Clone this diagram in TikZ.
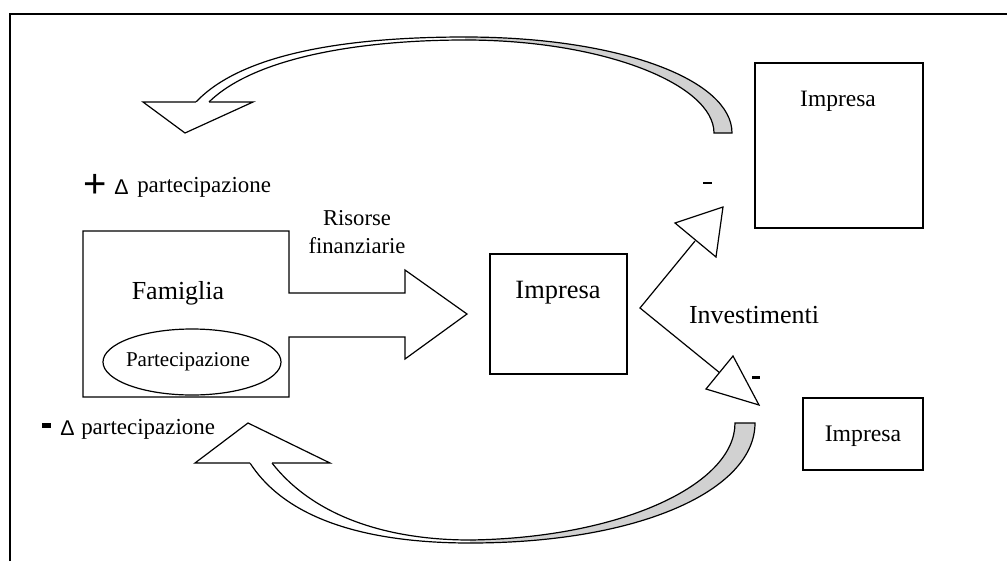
\documentclass[tikz,border=0pt]{standalone}
\usepackage{fontspec}
\setmainfont{Liberation Serif}
\newfontfamily\symf{Liberation Sans}
\begin{document}
\begin{tikzpicture}[x=0.75pt,y=-0.75pt,
  shp/.style={draw=black,line width=0.9pt,fill=white,line join=miter},
  ln/.style={draw=black,line width=0.9pt},
  lbl/.style={inner sep=0pt,anchor=center}]
\useasboundingbox (0,0) rectangle (1007,561);
% frame
\draw[line width=1.5pt] (9.5,561) -- (9.5,13.5) -- (1007,13.5);

% ---------- top curved arrow ----------
\path[fill=white] (196,102) .. controls (245,50) and (360,37) .. (465,37)
   -- (465,40) .. controls (365,40) and (256,56) .. (209,102) -- cycle;
\path[fill=black!18] (465,37) .. controls (620,37) and (732,80) .. (732,133)
   -- (714,133) .. controls (714,85) and (605,40) .. (465,40) -- cycle;
\draw[ln] (196,102) .. controls (245,50) and (360,37) .. (465,37)
   .. controls (620,37) and (732,80) .. (732,133) -- (714,133)
   .. controls (714,85) and (605,40) .. (465,40)
   .. controls (365,40) and (256,56) .. (209,102);
\draw[shp] (196,102) -- (143,102) -- (185,133) -- (253,102) -- (209,102);

% ---------- bottom curved arrow ----------
\path[fill=white] (250,463) .. controls (290,525) and (380,543) .. (470,543)
   -- (470,540) .. controls (390,540) and (315,518) .. (272,463) -- cycle;
\path[fill=black!18] (470,543) .. controls (640,543) and (755,490) .. (755,423)
   -- (735,423) .. controls (735,485) and (620,538) .. (470,540) -- cycle;
\draw[ln] (250,463) .. controls (290,525) and (380,543) .. (470,543)
   .. controls (640,543) and (755,490) .. (755,423) -- (735,423)
   .. controls (735,485) and (620,538) .. (470,540)
   .. controls (390,540) and (315,518) .. (272,463);
\draw[shp] (250,463) -- (195,463) -- (248,423) -- (330,463) -- (272,463);

% ---------- Famiglia with arrow ----------
\draw[shp] (83,231) -- (289,231) -- (289,293) -- (405,293) -- (405,270)
  -- (467,314) -- (405,359) -- (405,337) -- (289,337) -- (289,397)
  -- (83,397) -- cycle;
\node[lbl,font=\fontsize{19.5}{22}\selectfont] (famiglia) at (178,293) {Famiglia};
\draw[ln] (192,362) ellipse [x radius=89, y radius=33];
\node[lbl,font=\fontsize{15.8}{18}\selectfont] (partec) at (188,362) {Partecipazione};
\node[lbl,font=\fontsize{17}{21}\selectfont,align=center] (risorse) at (357,232)
  {Risorse\\finanziarie};

% ---------- labels ----------
\node[lbl] (plus) at (95,186) {\symf\fontsize{30}{32}\selectfont +};
\node[lbl,anchor=west] (pdelta) at (114,187) {\symf\fontsize{16}{18}\selectfont Δ};
\node[lbl,anchor=west,font=\fontsize{17.2}{20}\selectfont] (ppart) at (137,187) {partecipazione};
\fill (42,423) rectangle (51,428);
\node[lbl,anchor=west] (mdelta) at (60,428) {\symf\fontsize{16}{18}\selectfont Δ};
\node[lbl,anchor=west,font=\fontsize{17.2}{20}\selectfont] (mpart) at (81,429) {partecipazione};

% ---------- middle Impresa ----------
\draw[shp] (490,254) rectangle (627,374);
\node[lbl,font=\fontsize{19.8}{22}\selectfont] (impmid) at (558,293) {Impresa};

% investments
\draw[ln] (695,241) -- (640,308) -- (720,373);
\draw[shp] (675,223) -- (723,207) -- (716,257) -- cycle;
\draw[shp] (706,389) -- (733,356) -- (759,405) -- cycle;
\node[lbl,font=\fontsize{19.5}{22}\selectfont] (invest) at (754,315) {Investimenti};
\fill (703,182) rectangle (712,184);
\fill (752,375.5) rectangle (760,378.5);

% ---------- right boxes ----------
\draw[shp] (755,63) rectangle (923,228);
\node[lbl,font=\fontsize{17.6}{20}\selectfont] (imptr) at (838,101) {Impresa};
\draw[shp] (803,398) rectangle (923,470);
\node[lbl,font=\fontsize{17.8}{20}\selectfont] (impbr) at (863,436) {Impresa};
\end{tikzpicture}
\end{document}
